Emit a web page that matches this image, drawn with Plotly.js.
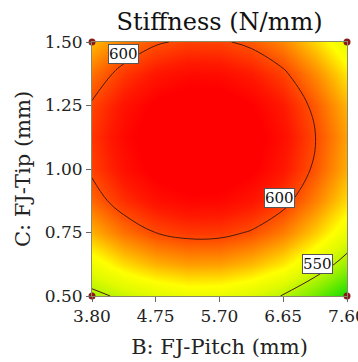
<!DOCTYPE html>
<html>
<head>
<meta charset="utf-8">
<script src="https://cdn.plot.ly/plotly-3.0.1.min.js"></script>
<style>
  html, body { margin: 0; padding: 0; background: #ffffff; }
  #chart { width: 358px; height: 362px; }
</style>
</head>
<body>
<div id="chart"></div>
<script>
// Factor B: finger-joint pitch (mm), factor C: finger-joint tip (mm)
const pitch = [3.80, 4.275, 4.75, 5.225, 5.70, 6.175, 6.65, 7.125, 7.60];
const tip = [0.50, 0.625, 0.75, 0.875, 1.00, 1.125, 1.25, 1.375, 1.50];

// Predicted stiffness (N/mm), one row per tip value, one column per pitch value
const stiffness = [
  [546.0, 553.0, 558.5, 561.9, 561.5, 557.3, 549.3, 535.9, 520.2],
  [563.6, 574.7, 581.9, 585.4, 585.0, 580.8, 572.8, 559.4, 543.7],
  [581.7, 592.8, 600.1, 603.5, 603.2, 599.0, 590.9, 577.6, 561.9],
  [594.6, 605.7, 613.0, 616.4, 616.0, 611.8, 603.8, 590.4, 574.7],
  [602.1, 613.2, 620.5, 623.9, 623.6, 619.4, 611.3, 598.0, 582.3],
  [604.4, 615.5, 622.7, 626.2, 625.8, 621.6, 613.6, 600.2, 584.5],
  [601.3, 612.4, 619.7, 623.1, 622.7, 618.5, 610.5, 597.1, 581.4],
  [592.9, 604.0, 611.3, 614.7, 614.3, 610.1, 602.1, 588.7, 573.0],
  [580.2, 591.3, 598.6, 602.0, 601.6, 597.4, 589.4, 576.0, 560.3]
];

// Contour levels drawn as lines
const levels = [550, 600];

// Design points of the experiment (corner runs)
const designPitch = [3.80, 7.60, 3.80, 7.60];
const designTip = [1.50, 1.50, 0.50, 0.50];

// Boxed contour labels
const labelText = ['600', '600', '550'];
const labelPitch = [4.27, 6.60, 7.16];
const labelTip = [1.453, 0.886, 0.626];

const xTickVals = [3.80, 4.75, 5.70, 6.65, 7.60];
const xTickText = ['3.80', '4.75', '5.70', '6.65', '7.60'];
const yTickVals = [0.50, 0.75, 1.00, 1.25, 1.50];
const yTickText = ['0.50', '0.75', '1.00', '1.25', '1.50'];

const serif = 'DejaVu Serif';

// Green (low) through yellow and orange to red (high)
const zmin = 520, zmax = 627;
const stop = v => (v - zmin) / (zmax - zmin);
const colorscale = [
  [0, '#10dc00'],
  [stop(540), '#88ee00'],
  [stop(558), '#e0fa00'],
  [stop(569), '#ffff00'],
  [stop(584), '#ffa400'],
  [stop(598), '#ff5400'],
  [stop(610), '#ff1a00'],
  [stop(618), '#ff0000'],
  [1, '#ff0000']
];

const surface = {
  type: 'contour',
  x: pitch,
  y: tip,
  z: stiffness,
  zmin: zmin,
  zmax: zmax,
  colorscale: colorscale,
  showscale: false,
  autocontour: false,
  contours: {
    start: levels[0],
    end: levels[levels.length - 1],
    size: levels[1] - levels[0],
    coloring: 'heatmap',
    showlines: true
  },
  line: { color: '#4a1a10', width: 1, smoothing: 1.1 },
  hoverinfo: 'skip'
};

const points = {
  type: 'scatter',
  mode: 'markers',
  x: designPitch,
  y: designTip,
  cliponaxis: false,
  marker: { color: '#8b1a1a', size: 7 },
  hoverinfo: 'skip'
};

const annotations = labelText.map((t, i) => ({
  x: labelPitch[i],
  y: labelTip[i],
  xref: 'x',
  yref: 'y',
  text: t,
  showarrow: false,
  font: { family: serif, size: 15, color: '#111111' },
  bgcolor: '#ffffff',
  bordercolor: '#555555',
  borderwidth: 1,
  borderpad: 0
}));

const axisCommon = {
  showgrid: false,
  zeroline: false,
  showline: true,
  mirror: true,
  linecolor: '#8a8a66',
  linewidth: 1,
  ticks: 'outside',
  ticklen: 5,
  tickwidth: 1,
  tickcolor: '#666666',
  ticklabeloverflow: 'allow',
  tickfont: { family: serif, size: 17, color: '#222222' }
};

const layout = {
  width: 358,
  height: 362,
  margin: { l: 92, r: 11, t: 42, b: 66 },
  paper_bgcolor: '#ffffff',
  plot_bgcolor: '#ffffff',
  showlegend: false,
  font: { family: serif },
  title: {
    text: 'Stiffness (N/mm)',
    font: { family: serif, size: 24, color: '#111111' },
    xref: 'paper',
    x: 0.5,
    xanchor: 'center',
    yref: 'container',
    y: 0.94,
    yanchor: 'middle'
  },
  xaxis: Object.assign({}, axisCommon, {
    range: [3.80, 7.60],
    tickvals: xTickVals,
    ticktext: xTickText,
    title: { text: 'B: FJ-Pitch (mm)', font: { family: serif, size: 21, color: '#222222' }, standoff: 13 }
  }),
  yaxis: Object.assign({}, axisCommon, {
    range: [0.50, 1.50],
    tickvals: yTickVals,
    ticktext: yTickText,
    title: { text: 'C: FJ-Tip (mm)', font: { family: serif, size: 21, color: '#222222' }, standoff: 8 }
  }),
  annotations: annotations
};

Plotly.newPlot('chart', [surface, points], layout, { displayModeBar: false, staticPlot: true });
</script>
</body>
</html>
